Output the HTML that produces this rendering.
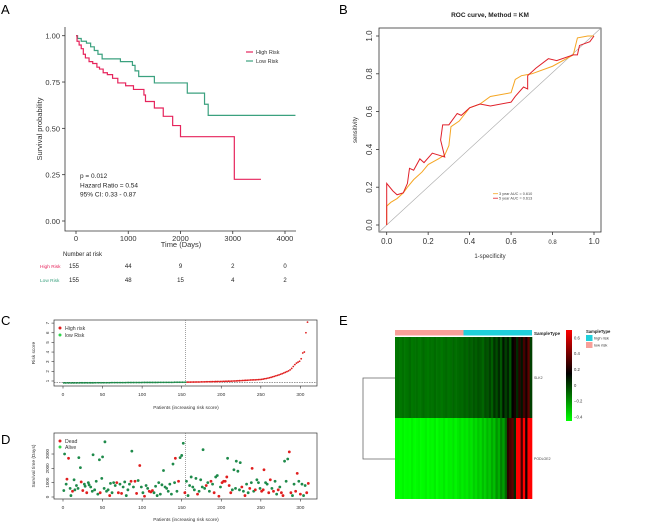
<!DOCTYPE html>
<html><head><meta charset="utf-8"><style>
body{margin:0;background:#fff;width:668px;height:523px;overflow:hidden}
svg{font-family:"Liberation Sans",Arial,sans-serif}
</style></head><body>
<svg id="fig" width="668" height="523" viewBox="0 0 668 523" xmlns="http://www.w3.org/2000/svg">
<g font-size="13" fill="#000">
<text x="1" y="14">A</text>
<text x="339" y="14">B</text>
<text x="1" y="325">C</text>
<text x="1" y="444">D</text>
<text x="339" y="325">E</text>
</g>
<g id="pa"></g>
<g id="pb"></g>
<g id="pc"></g>
<g id="pd"></g>
<g id="pe"></g>
</svg>
<script>
// ---------- DATA ----------
const kmHighT=[0,20,60,100,140,180,250,320,400,450,520,600,700,800,950,1100,1300,1330,1500,1670,1850,2000,3030];
const kmHighS=[1,0.97,0.95,0.93,0.9,0.88,0.86,0.85,0.83,0.82,0.8,0.79,0.77,0.745,0.73,0.71,0.68,0.645,0.61,0.565,0.515,0.455,0.225];
const kmHighEnd=3540;
const kmLowT=[0,30,100,200,280,350,420,500,850,1080,1130,1200,1500,2130,2460,2530];
const kmLowS=[1,0.985,0.97,0.96,0.94,0.92,0.9,0.875,0.86,0.84,0.81,0.78,0.745,0.69,0.63,0.57];
const kmLowEnd=4200;
const kmXTicks=[0,1000,2000,3000,4000];
const kmYTicks=[0,0.25,0.5,0.75,1];
const riskHigh=["155","44","9","2","0"];
const riskLow=["155","48","15","4","2"];

const roc3x=[0,0,0.02,0.05,0.08,0.1,0.13,0.17,0.2,0.25,0.28,0.3,0.31,0.35,0.4,0.45,0.5,0.6,0.62,0.65,0.7,0.8,0.9,0.92,0.97,1];
const roc3y=[0,0.1,0.12,0.14,0.17,0.2,0.24,0.28,0.32,0.35,0.37,0.42,0.52,0.55,0.62,0.64,0.68,0.7,0.77,0.79,0.8,0.84,0.9,0.99,1,1];
const roc5x=[0,0,0.03,0.05,0.08,0.1,0.11,0.13,0.16,0.18,0.22,0.25,0.28,0.26,0.27,0.3,0.34,0.36,0.4,0.45,0.5,0.6,0.62,0.66,0.68,0.68,0.72,0.78,0.82,0.9,0.92,0.93,0.98,1];
const roc5y=[0,0.22,0.18,0.16,0.17,0.22,0.3,0.29,0.35,0.33,0.38,0.37,0.36,0.45,0.53,0.53,0.59,0.58,0.62,0.64,0.63,0.65,0.68,0.73,0.72,0.79,0.83,0.88,0.87,0.9,0.9,0.95,0.97,1];
const rocTicks=[0,0.2,0.4,0.6,0.8,1];
const rocTickLabels=["0.0","0.2","0.4","0.6","0.8","1.0"];

const riskScores=[0.80,0.80,0.80,0.80,0.80,0.80,0.80,0.80,0.80,0.80,0.81,0.81,0.81,0.81,0.81,0.81,0.81,0.81,0.81,0.81,0.82,0.82,0.82,0.82,0.82,0.82,0.82,0.82,0.82,0.82,0.83,0.83,0.83,0.83,0.83,0.83,0.83,0.83,0.83,0.83,0.84,0.84,0.84,0.84,0.84,0.84,0.84,0.84,0.84,0.84,0.85,0.85,0.85,0.85,0.85,0.85,0.85,0.85,0.85,0.85,0.86,0.86,0.86,0.86,0.86,0.86,0.86,0.86,0.86,0.86,0.87,0.87,0.87,0.87,0.87,0.87,0.87,0.87,
0.88,0.88,0.88,0.89,0.89,0.89,0.90,0.90,0.90,0.91,0.91,0.91,0.92,0.92,0.92,0.93,0.93,0.93,0.94,0.94,0.95,0.95,
0.96,0.96,0.97,0.97,0.98,0.98,0.99,1.00,1.00,1.01,1.02,1.03,1.04,1.05,1.06,1.07,1.08,1.09,1.10,1.11,1.12,1.12,1.13,1.14,1.15,
1.17,1.2,1.23,1.26,1.3,1.34,1.38,1.43,1.48,1.53,1.58,1.63,1.7,1.76,1.83,
1.9,1.97,2.05,2.15,2.3,2.5,2.7,2.85,2.95,3.05,
3.3,3.9,4.0,6.0,7.1];
const cXTicks=[0,50,100,150,200,250,300];
const cYTicks=[1,2,3,4,5,6,7];
const cutoffPatient=155;

const dPat=[1,2,4,5,7,9,10,12,14,15,17,19,20,22,23,25,27,28,30,32,33,35,37,38,40,42,44,46,47,49,50,52,53,55,57,59,60,62,64,66,68,70,72,74,76,78,80,82,84,86,87,89,91,93,95,97,99,101,103,105,107,109,111,113,115,117,119,121,123,125,127,129,131,133,135,137,139,141,142,144,146,148,150,152,154,156,158,160,162,164,166,168,170,172,174,176,177,179,181,183,185,187,189,191,193,195,197,199,201,203,205,207,208,210,212,214,216,218,219,221,223,224,226,228,230,232,234,236,238,239,241,243,245,247,249,251,253,254,256,258,260,262,264,266,268,270,272,274,276,278,280,282,284,286,288,290,292,294,296,298,300,302,304,306,308,310];
const dTime=[450,3000,900,1250,2700,600,100,400,1200,500,800,600,2750,2050,1050,450,900,750,300,1000,850,700,400,2950,500,1100,200,2600,300,1300,2800,600,3850,400,500,100,950,300,1000,800,1000,300,900,250,700,1050,100,500,900,1100,3200,700,1100,250,1150,2200,700,300,50,800,600,400,350,450,300,750,100,1000,200,850,1850,700,600,400,900,200,2300,1000,2700,400,1100,2750,2900,3750,300,1100,100,800,1400,700,500,1300,200,400,1200,700,3300,600,800,1000,400,1100,900,300,1400,1500,50,700,1000,1100,1100,1400,2700,800,300,500,1900,600,2500,1800,500,2400,700,400,100,900,300,600,1000,2000,400,500,1200,1000,600,400,500,1900,1000,900,300,1200,600,400,1100,200,500,700,300,100,2500,1100,2650,3150,300,100,900,400,1650,1100,200,900,100,800,300,950];
const dStatus=[0,0,0,1,1,0,0,1,0,0,0,0,0,0,1,1,0,0,1,0,0,0,0,0,0,0,0,0,1,0,0,0,0,0,0,1,0,0,0,0,1,1,0,1,0,0,0,0,0,1,0,0,1,1,0,1,0,0,1,0,0,1,1,1,0,0,0,0,0,0,0,0,0,0,0,0,0,0,1,0,1,0,0,0,1,0,0,0,0,0,0,0,1,0,0,0,0,0,1,0,0,1,0,1,0,0,1,0,1,1,1,1,0,1,1,0,0,0,0,0,0,0,1,0,1,0,0,1,0,1,0,1,0,0,0,1,1,1,0,0,1,1,0,1,0,0,1,0,1,1,0,0,0,1,1,0,0,1,1,0,1,0,0,0,1,1];
const dXTicks=[0,50,100,150,200,250,300];
const dYTicks=[0,1000,2000,3000];
const dYLabels=["0","1000","2000","3000"];

const heatGene1=[-0.13,-0.12,-0.13,-0.11,-0.13,-0.12,-0.10,-0.13,-0.12,-0.11,-0.13,-0.12,-0.10,-0.12,-0.13,-0.11,-0.12,-0.10,-0.12,-0.11,-0.13,-0.11,-0.10,-0.12,-0.11,-0.09,-0.11,-0.10,-0.09,-0.10,-0.07,-0.09,-0.06,-0.08,-0.05,-0.07,-0.04,-0.06,-0.09,-0.03,-0.05,0.0,-0.07,0.03,-0.03,0.05,-0.05,0.1,0.0,0.07,-0.05,0.15,0.2,0.05,0.25,0.1,0.3,0.2,0.35,0.0];
const heatGene2=[-0.45,-0.44,-0.45,-0.43,-0.45,-0.44,-0.45,-0.42,-0.45,-0.44,-0.43,-0.45,-0.44,-0.42,-0.45,-0.43,-0.44,-0.41,-0.45,-0.42,-0.43,-0.4,-0.44,-0.41,-0.42,-0.39,-0.43,-0.4,-0.38,-0.41,-0.38,-0.4,-0.36,-0.39,-0.34,-0.37,-0.32,-0.36,-0.3,-0.34,-0.28,-0.32,-0.25,-0.3,-0.2,-0.26,-0.15,-0.22,-0.1,0.25,0.3,0.35,0.05,0.7,0.7,0.3,0.7,0.2,0.7,0.7];
const heatGenes=["SLK2","PODLOE2"];
const keyTicks=[0.6,0.4,0.2,0,-0.2,-0.4];
const keyLabels=["0.6","0.4","0.2","0","\u22120.2","\u22120.4"];

// ---------- HELPERS ----------
const NS="http://www.w3.org/2000/svg";
function mk(parent,tag,attrs,txt){const e=document.createElementNS(NS,tag);for(const k in attrs)e.setAttribute(k,attrs[k]);if(txt!==undefined)e.textContent=txt;parent.appendChild(e);return e;}

// ---------- PANEL A ----------
(function(){
const g=document.getElementById('pa');
const X=t=>76+t*0.05225, Y=p=>221-p*185.3;
let e;
e=mk(g,'path',{d:'M65 27 V231 H296',fill:'none',stroke:'#333','stroke-width':0.8});


kmYTicks.forEach(v=>{
 e=mk(g,'line',{x1:62,x2:65,y1:Y(v),y2:Y(v),stroke:'#333','stroke-width':0.8});
 
 
 e=mk(g,'text',{x:60,y:Y(v)+3,'text-anchor':'end','font-size':7.5,fill:'#333'},v.toFixed(2));
 
 
});
kmXTicks.forEach(v=>{
 e=mk(g,'line',{x1:X(v),x2:X(v),y1:231,y2:234,stroke:'#333','stroke-width':0.8});
 
 
 e=mk(g,'text',{x:X(v),y:241,'text-anchor':'middle','font-size':7.5,fill:'#333'},String(v));
 
 
});
e=mk(g,'text',{x:181,y:247,'text-anchor':'middle','font-size':7.5,fill:'#333'},'Time (Days)');


e=mk(g,'text',{x:42,y:129,'text-anchor':'middle','font-size':7.5,fill:'#333',transform:'rotate(-90 42 129)'},'Survival probability');


function step(T,S,end){let d='M'+X(T[0])+' '+Y(S[0]);for(let i=1;i<T.length;i++){d+=' H'+X(T[i])+' V'+Y(S[i]);}d+=' H'+X(end);return d;}
e=mk(g,'path',{d:step(kmLowT,kmLowS,kmLowEnd),fill:'none',stroke:'#3BA17F','stroke-width':1.2});


e=mk(g,'path',{d:step(kmHighT,kmHighS,kmHighEnd),fill:'none',stroke:'#E6245C','stroke-width':1.2});


[['High Risk','#E6245C',52],['Low Risk','#3BA17F',61]].forEach(l=>{
 e=mk(g,'line',{x1:246,x2:253,y1:l[2],y2:l[2],stroke:l[1],'stroke-width':1.2});
 
 
 e=mk(g,'text',{x:256,y:l[2]+2,'font-size':5.5,fill:'#333'},l[0]);
 
 
});
['p = 0.012','Hazard Ratio = 0.54','95% CI: 0.33 - 0.87'].forEach((s,i)=>{
 e=mk(g,'text',{x:80,y:178+i*9.3,'font-size':6.5,fill:'#222'},s);
 
 
});
e=mk(g,'text',{x:63,y:256,'font-size':6,fill:'#222'},'Number at risk');


[[riskHigh,'High Risk','#E6245C',268],[riskLow,'Low Risk','#3BA17F',282]].forEach(r=>{
 e=mk(g,'text',{x:40,y:r[3],'font-size':4.8,fill:r[2]},r[1]);
 
 
 r[0].forEach((s,i)=>{
  e=mk(g,'text',{x:X(kmXTicks[i])+(i==0?-7:0),y:r[3],'font-size':6,'text-anchor':i==0?'start':'middle',fill:'#222'},s);
  
  
 });
});
})();

// ---------- PANEL B ----------
(function(){
const g=document.getElementById('pb');
const X=v=>386.7+v*207.3, Y=v=>225-v*189;
let e;
e=mk(g,'rect',{x:379,y:28,width:222,height:204,fill:'none',stroke:'#333','stroke-width':0.8});


e=mk(g,'text',{x:490,y:17,'text-anchor':'middle','font-size':6.5,'font-weight':'bold',fill:'#222'},'ROC curve, Method = KM');


rocTicks.forEach((v,i)=>{
 e=mk(g,'line',{x1:X(v),x2:X(v),y1:232,y2:235,stroke:'#333','stroke-width':0.8});
 
 
 e=mk(g,'text',{x:X(v),y:244,'text-anchor':'middle','font-size':i==4?6:8,fill:'#333'},rocTickLabels[i]);
 
 
 e=mk(g,'line',{x1:376,x2:379,y1:Y(v),y2:Y(v),stroke:'#333','stroke-width':0.8});
 
 
 e=mk(g,'text',{x:372,y:Y(v),'text-anchor':'middle','font-size':8,fill:'#333',transform:'rotate(-90 372 '+Y(v)+')'},rocTickLabels[i]);
 
 
});
e=mk(g,'text',{x:490,y:258,'text-anchor':'middle','font-size':6,fill:'#333'},'1-specificity');


e=mk(g,'text',{x:357,y:130,'text-anchor':'middle','font-size':6,fill:'#333',transform:'rotate(-90 357 130)'},'sensitivity');


e=mk(g,'line',{x1:379,y1:232,x2:601,y2:28,stroke:'#aaa','stroke-width':0.6});


function pl(xs,ys){return xs.map((x,i)=>X(x)+','+Y(ys[i])).join(' ');}
e=mk(g,'polyline',{points:pl(roc3x,roc3y),fill:'none',stroke:'#F5A623','stroke-width':1});


e=mk(g,'polyline',{points:pl(roc5x,roc5y),fill:'none',stroke:'#E0202A','stroke-width':1});


[['3 year AUC =  0.610','#F5A623',195],['5 year AUC =  0.613','#E0202A',199.5]].forEach(l=>{
 e=mk(g,'line',{x1:493,x2:498,y1:l[2]-1.3,y2:l[2]-1.3,stroke:l[1],'stroke-width':0.8});
 
 
 e=mk(g,'text',{x:499,y:l[2],'font-size':3.8,fill:'#444'},l[0]);
 
 
});
})();

// ---------- PANEL C ----------
(function(){
const g=document.getElementById('pc');
const X=p=>63+p*0.7913, Y=v=>381-(v-1)*9.65;
let e;
e=mk(g,'rect',{x:54,y:320,width:263,height:66,fill:'none',stroke:'#333','stroke-width':0.7});


cXTicks.forEach(v=>{
 e=mk(g,'line',{x1:X(v),x2:X(v),y1:386,y2:388.5,stroke:'#333','stroke-width':0.6});
 
 
 e=mk(g,'text',{x:X(v),y:396,'text-anchor':'middle','font-size':4.8,fill:'#333'},String(v));
 
 
});
cYTicks.forEach(v=>{
 e=mk(g,'line',{x1:51.5,x2:54,y1:Y(v),y2:Y(v),stroke:'#333','stroke-width':0.6});
 
 
 e=mk(g,'text',{x:49,y:Y(v),'text-anchor':'middle','font-size':4.5,fill:'#333',transform:'rotate(-90 49 '+Y(v)+')'},String(v));
 
 
});
e=mk(g,'text',{x:186,y:409,'text-anchor':'middle','font-size':4.8,fill:'#333'},'Patients (increasing risk score)');


e=mk(g,'text',{x:35,y:353,'text-anchor':'middle','font-size':4.8,fill:'#333',transform:'rotate(-90 35 353)'},'Risk score');


e=mk(g,'line',{x1:X(cutoffPatient),x2:X(cutoffPatient),y1:320,y2:386,stroke:'#666','stroke-width':0.6,'stroke-dasharray':'1,1'});


e=mk(g,'line',{x1:54,x2:317,y1:Y(riskScores[77]),y2:Y(riskScores[77]),stroke:'#333','stroke-width':0.6,'stroke-dasharray':'1.5,1'});


riskScores.forEach((v,i)=>{
 const p=2*i+1;
 e=mk(g,'circle',{cx:X(p),cy:Y(v),r:0.9,fill:p<=cutoffPatient?'#1E8A4A':'#E01E1E'});
 
 
});
[['High risk','#E01E1E',328],['low Risk','#2ED44A',335]].forEach(l=>{
 e=mk(g,'circle',{cx:60,cy:l[2],r:1.5,fill:l[1]});
 
 
 e=mk(g,'text',{x:65,y:l[2]+2,'font-size':5.2,fill:'#333'},l[0]);
 
 
});
})();

// ---------- PANEL D ----------
(function(){
const g=document.getElementById('pd');
const X=p=>63+p*0.7913, Y=t=>497-t*0.01433;
let e;
e=mk(g,'rect',{x:54,y:433,width:263,height:66,fill:'none',stroke:'#333','stroke-width':0.7});


dXTicks.forEach(v=>{
 e=mk(g,'line',{x1:X(v),x2:X(v),y1:499,y2:501.5,stroke:'#333','stroke-width':0.6});
 
 
 e=mk(g,'text',{x:X(v),y:509,'text-anchor':'middle','font-size':4.8,fill:'#333'},String(v));
 
 
});
dYTicks.forEach((v,i)=>{
 e=mk(g,'line',{x1:51.5,x2:54,y1:Y(v),y2:Y(v),stroke:'#333','stroke-width':0.6});
 
 
 e=mk(g,'text',{x:49,y:Y(v),'text-anchor':'middle','font-size':4.5,fill:'#333',transform:'rotate(-90 49 '+Y(v)+')'},dYLabels[i]);
 
 
});
e=mk(g,'text',{x:186,y:521,'text-anchor':'middle','font-size':4.8,fill:'#333'},'Patients (increasing risk score)');


e=mk(g,'text',{x:35,y:466,'text-anchor':'middle','font-size':4.8,fill:'#333',transform:'rotate(-90 35 466)'},'Survival time (Days)');


e=mk(g,'line',{x1:X(cutoffPatient),x2:X(cutoffPatient),y1:433,y2:499,stroke:'#666','stroke-width':0.6,'stroke-dasharray':'1,1'});


dPat.forEach((p,i)=>{
 e=mk(g,'circle',{cx:X(p),cy:Y(dTime[i]),r:1.4,fill:dStatus[i]?'#E01E1E':'#1E8A4A'});
 
 
});
[['Dead','#E01E1E',441],['Alive','#2ED44A',447]].forEach(l=>{
 e=mk(g,'circle',{cx:60,cy:l[2],r:1.5,fill:l[1]});
 
 
 e=mk(g,'text',{x:65,y:l[2]+2,'font-size':5.2,fill:'#333'},l[0]);
 
 
});
})();

// ---------- PANEL E ----------
(function(){
const g=document.getElementById('pe');
const x0=395,x1=532,n=heatGene1.length,cw=(x1-x0)/n;
function col(v){v=Math.max(-0.45,Math.min(0.7,v));if(v<=0.15){const gg=Math.round(255*(0.15-v)/0.6);return 'rgb(0,'+gg+',0)';}const r=Math.round(255*(v-0.15)/0.55);return 'rgb('+r+',0,0)';}
let e;
e=mk(g,'rect',{x:x0,y:330,width:(x1-x0)/2,height:5.5,fill:'#F8A09A'});


e=mk(g,'rect',{x:x0+(x1-x0)/2,y:330,width:(x1-x0)/2,height:5.5,fill:'#1FD0DC'});


e=mk(g,'text',{x:534,y:335,'font-size':4.5,'font-weight':'bold',fill:'#222'},'SampleType');


[heatGene1,heatGene2].forEach((arr,r)=>{
 const y=r==0?337:418, h=r==0?81:81;
 arr.forEach((v,i)=>{
  e=mk(g,'rect',{x:x0+i*cw,y:y,width:cw+0.3,height:h,fill:col(v)});
  
  
 });
 e=mk(g,'text',{x:534,y:y+42,'font-size':3.5,fill:'#444'},heatGenes[r]);
 
 
});
e=mk(g,'path',{d:'M395 378 H363 V459 H395',fill:'none',stroke:'#666','stroke-width':0.8});


const grad=mk(g,'defs',{});
const lg=mk(grad,'linearGradient',{id:'kg',x1:0,y1:1,x2:0,y2:0});
[[0,'#00ff00'],[0.52,'#000000'],[1,'#ff0000']].forEach(s=>mk(lg,'stop',{offset:s[0],'stop-color':s[1]}));
e=mk(g,'rect',{x:566,y:330,width:6,height:91,fill:'url(#kg)'});


const KY=v=>421-(v+0.45)*(91/1.15);
keyTicks.forEach((v,i)=>{
 e=mk(g,'text',{x:574,y:KY(v)+1.5,'font-size':4.2,fill:'#333'},keyLabels[i]);
 
 
});
e=mk(g,'text',{x:586,y:333,'font-size':4.2,'font-weight':'bold',fill:'#222'},'SampleType');


[['high risk','#1FD0DC',335],['low risk','#F8A09A',342]].forEach(l=>{
 e=mk(g,'rect',{x:586,y:l[2],width:6.5,height:6,fill:l[1]});
 
 
 e=mk(g,'text',{x:594,y:l[2]+4.5,'font-size':4,fill:'#333'},l[0]);
 
 
});
})();
</script>
</body></html>
